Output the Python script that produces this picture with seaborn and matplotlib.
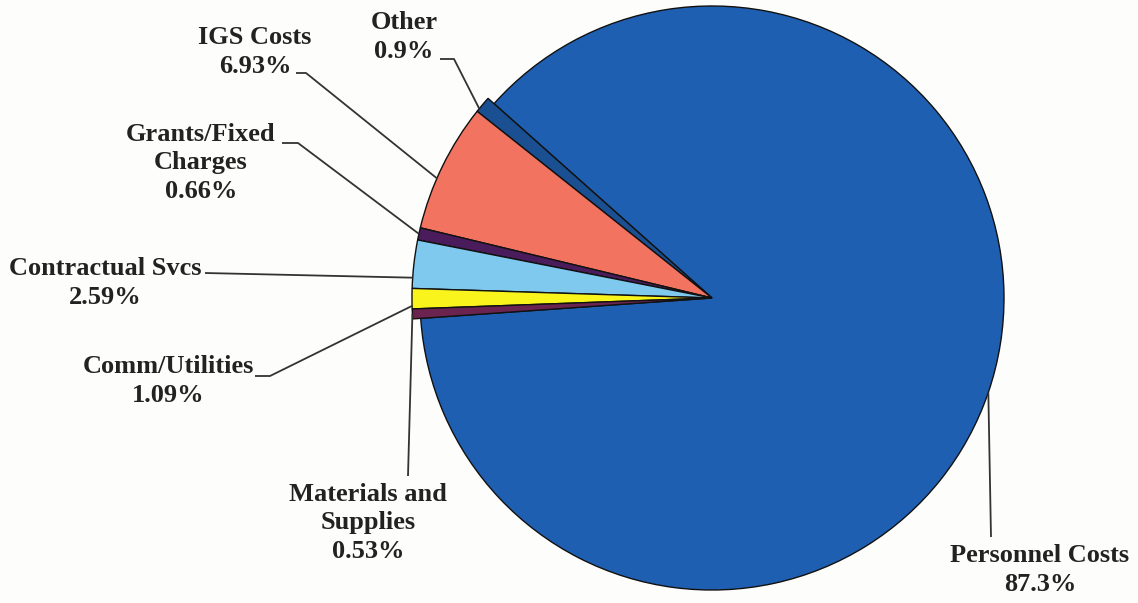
import numpy as np
import matplotlib
matplotlib.use("Agg")
import matplotlib.pyplot as plt
import seaborn as sns

# slice data, counterclockwise from Personnel Costs
categories = ["Personnel Costs", "Other", "IGS Costs", "Grants/Fixed\nCharges",
              "Contractual Svcs", "Comm/Utilities", "Materials and\nSupplies"]
shares = [87.3, 0.9, 6.93, 0.66, 2.59, 1.09, 0.53]
share_labels = ["87.3%", "0.9%", "6.93%", "0.66%", "2.59%", "1.09%", "0.53%"]
colors = ["#1f5fb2", "#1a4f92", "#f2735f", "#4a1c5c", "#7fc9ee", "#f8f41c", "#6b2450"]
explode = [0, 0.025, 0.015, 0.015, 0.015, 0.015, 0.015]

sns.set_style("white")
plt.rcParams["font.family"] = ["Liberation Serif", "DejaVu Serif"]

W, H = 1138, 603
fig = plt.figure(figsize=(W / 100, H / 100), dpi=100)
fig.patch.set_facecolor("#fdfdfb")
ax = fig.add_axes([0, 0, 1, 1])
ax.set_facecolor("#fdfdfb")

# work in image pixels (y flipped)
def P(x, y):
    return (x, H - y)

cx, cy = P(712, 298)
R = 292

wedges, _ = ax.pie(shares, colors=colors, startangle=184, counterclock=True,
                   explode=explode, radius=R, center=(cx, cy),
                   wedgeprops=dict(edgecolor="#111111", linewidth=1.0))
# the small slices stick out a little past the big one
for w in wedges[1:]:
    w.set_radius(R + 8)

ax.set_xlim(0, W)
ax.set_ylim(0, H)
ax.set_aspect("equal")
ax.axis("off")

# label layout: text center, line start, optional knee (pixels)
layout = [
    ((1040, 570), (991, 537), None),
    ((404, 37), (440, 59), (454, 59)),
    ((255, 52), (296, 73), (306, 73)),
    ((201, 163), (282, 143), (298, 143)),
    ((105, 283), (205, 273), None),
    ((168, 381), (255, 376), (270, 376)),
    ((368, 523), (408, 476), None),
]
anchor_frac = [0.5, 0.8, 0.6, 0.5, 0.78, 0.85, 0.5]

for w, name, pct, (tpos, start, knee), fr in zip(wedges, categories, share_labels, layout, anchor_frac):
    ang = np.deg2rad(w.theta1 + fr * (w.theta2 - w.theta1))
    ax_x = w.center[0] + w.r * np.cos(ang)
    ax_y = w.center[1] + w.r * np.sin(ang)
    pts = [P(*start)]
    if knee is not None:
        pts.append(P(*knee))
    pts.append((ax_x, ax_y))
    xs, ys = zip(*pts)
    ax.plot(xs, ys, color="#333333", lw=1.3, solid_capstyle="butt", zorder=1)
    ax.text(*P(*tpos), name + "\n" + pct, ha="center", va="center",
            fontsize=19, fontweight="bold", color="#222222", linespacing=1.3)

fig.savefig("out.png", dpi=100, facecolor=fig.get_facecolor())
